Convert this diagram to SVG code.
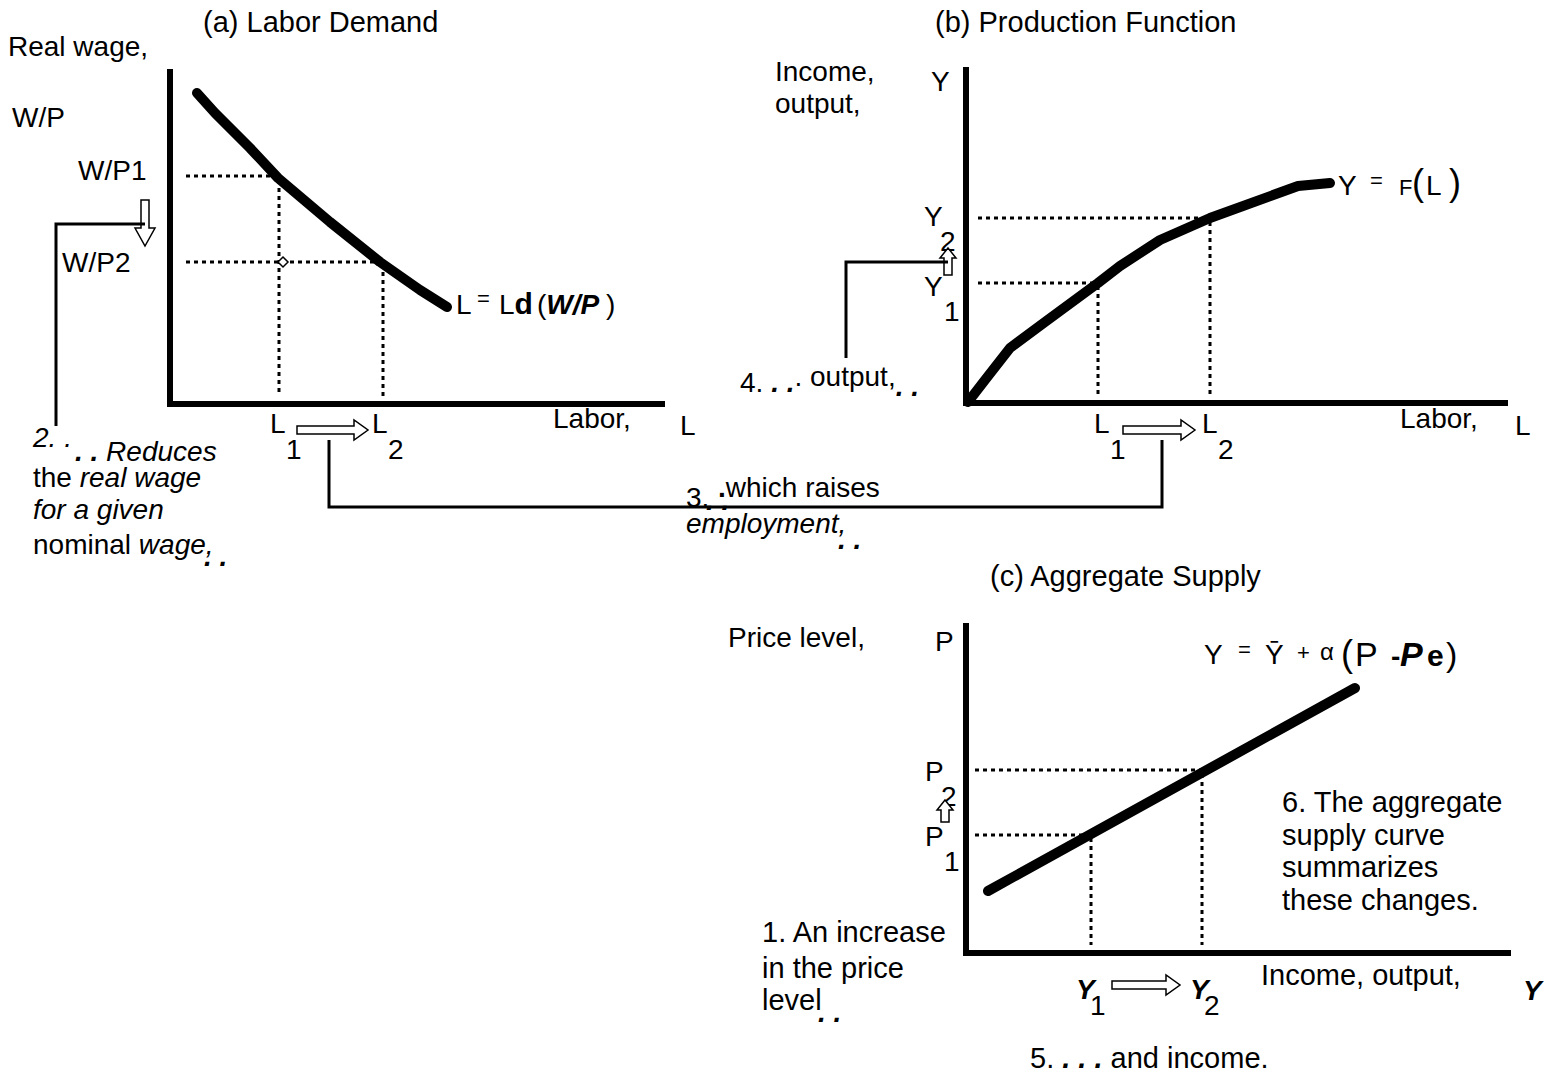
<svg xmlns="http://www.w3.org/2000/svg" width="1554" height="1086" viewBox="0 0 1554 1086">
<style>
text{font-family:"Liberation Sans",Arial,sans-serif;font-size:28px;fill:#000}
.t{font-size:29px}
.it{font-style:italic}
.b{font-weight:bold}
.axis{stroke:#000;stroke-width:6;fill:none;stroke-linecap:square}
.curve{stroke:#000;stroke-width:10;fill:none;stroke-linecap:round;stroke-linejoin:round}
.dot{stroke:#000;stroke-width:3;stroke-dasharray:4 4;fill:none}
.conn{stroke:#000;stroke-width:3;fill:none}
.harrow{fill:#fff;stroke:#000;stroke-width:1.5}
</style>
<rect width="1554" height="1086" fill="#fff"/>

<g id="panel-a">
<text class="t" x="203" y="32">(a) Labor Demand</text>
<text x="8" y="56">Real wage,</text>
<text x="12" y="127">W/P</text>
<text x="78" y="180">W/P1</text>
<text x="62" y="272">W/P2</text>
<path class="axis" d="M170 72 V404 H662"/>
<path class="dot" d="M186 176 H278"/>
<path class="dot" d="M186 262 H380"/>
<path class="dot" d="M279 180 V394"/>
<path class="dot" d="M383 264 V396"/>
<path class="curve" d="M197 93 L215 113 L250 148 L278 178 L330 222 L380 262 L420 290 L447 307"/>
<polygon points="283,257 288,262 283,267 278,262" fill="#fff" stroke="#000" stroke-width="1.5"/>
<text y="314"><tspan x="456">L</tspan><tspan x="477" y="306" font-size="22">=</tspan><tspan x="499" y="314">L</tspan><tspan class="b" font-size="30">d</tspan><tspan x="537">(</tspan><tspan class="it b">W/P</tspan><tspan x="606">)</tspan></text>
<text x="553" y="428">Labor,</text>
<text x="680" y="435">L</text>
<text x="270" y="433">L</text>
<text x="286" y="459">1</text>
<polygon class="harrow" points="297,426 354,426 354,420 368,430 354,440 354,434 297,434"/>
<text x="372" y="433">L</text>
<text x="388" y="459">2</text>
<polygon class="harrow" points="141,200 149,200 149,228 155,228 145,246 135,228 141,228"/>
<text class="it" x="33" y="447">2. .</text>
<text class="it" x="75" y="461"><tspan class="b">. .</tspan> Reduces</text>
<text x="33" y="487">the <tspan class="it">real wage</tspan></text>
<text class="it" x="33" y="519">for a given</text>
<text x="33" y="554">nominal <tspan class="it">wage,</tspan></text>
<text class="it b" x="204" y="566">. .</text>
</g>

<g id="panel-b">
<text class="t" x="935" y="32">(b) Production Function</text>
<text x="775" y="81">Income,</text>
<text x="775" y="113">output,</text>
<text x="931" y="91">Y</text>
<path class="axis" d="M966 70 V403 H1505"/>
<path class="dot" d="M978 218 H1210"/>
<path class="dot" d="M978 283 H1098"/>
<path class="dot" d="M1098 286 V395"/>
<path class="dot" d="M1210 222 V395"/>
<path class="curve" d="M968 402 L985 380 L1010 348 L1045 322 L1098 283 L1120 266 L1160 240 L1210 218 L1298 186 L1330 183"/>
<text y="195"><tspan x="1338">Y</tspan><tspan x="1370" y="188" font-size="22">=</tspan><tspan x="1399" y="195" font-size="22">F</tspan><tspan x="1412" font-size="36">(</tspan><tspan x="1426">L</tspan><tspan x="1449" font-size="36">)</tspan></text>
<text x="924" y="226">Y</text>
<text x="940" y="251">2</text>
<text x="924" y="296">Y</text>
<text x="944" y="321">1</text>
<polygon class="harrow" points="948,248 956,258 952,258 952,275 944,275 944,258 940,258"/>
<text x="1400" y="428">Labor,</text>
<text x="1515" y="435">L</text>
<text x="1094" y="433">L</text>
<text x="1110" y="459">1</text>
<polygon class="harrow" points="1123,426 1181,426 1181,420 1195,430 1181,440 1181,434 1123,434"/>
<text x="1202" y="433">L</text>
<text x="1218" y="459">2</text>
<text x="740" y="392">4. <tspan class="it b">. .</tspan><tspan dy="-6">. output,</tspan><tspan class="it b" dy="10">. .</tspan></text>
</g>

<g id="note-3">
<text x="686" y="507">3.</text>
<text class="it b" x="706" y="510">. .</text>
<text x="718" y="497"><tspan class="b">.</tspan>which raises</text>
<text class="it" x="686" y="533">employment,</text>
<text class="it b" x="838" y="549">. .</text>
</g>

<g id="panel-c">
<text class="t" x="990" y="586">(c) Aggregate Supply</text>
<text x="728" y="647">Price level,</text>
<text x="935" y="651">P</text>
<path class="axis" d="M966 626 V953 H1508"/>
<path class="dot" d="M975 770 H1200"/>
<path class="dot" d="M975 835 H1091"/>
<path class="dot" d="M1091 838 V945"/>
<path class="dot" d="M1202 774 V945"/>
<path class="curve" stroke-width="11" d="M988 891 L1355 688"/>
<text y="664"><tspan x="1204">Y</tspan><tspan x="1238" y="657" font-size="22">=</tspan><tspan x="1265" y="664">Ȳ</tspan><tspan x="1297" y="660" font-size="22">+</tspan><tspan x="1320" y="660" font-size="24">α</tspan><tspan x="1341" y="666" font-size="36">(</tspan><tspan x="1355" font-size="34">P</tspan><tspan class="b" x="1391">-</tspan><tspan class="it b" x="1400" font-size="34">P</tspan><tspan class="b" x="1427" font-size="30">e</tspan><tspan x="1446" font-size="34">)</tspan></text>
<text x="925" y="781">P</text>
<text x="941" y="806">2</text>
<text x="925" y="846">P</text>
<text x="944" y="871">1</text>
<polygon class="harrow" points="945,800 953,810 949,810 949,822 941,822 941,810 937,810"/>
<text class="t" x="1282" y="812">6. The aggregate</text>
<text class="t" x="1282" y="845">supply curve</text>
<text class="t" x="1282" y="877">summarizes</text>
<text class="t" x="1282" y="910">these changes.</text>
<text class="t" x="762" y="942">1. An increase</text>
<text class="t" x="762" y="978">in the price</text>
<text class="t" x="762" y="1010">level</text>
<text class="it b" x="818" y="1022">. .</text>
<text class="it b" x="1076" y="999">Y</text>
<text x="1090" y="1015">1</text>
<polygon class="harrow" points="1112,981 1166,981 1166,975 1180,985 1166,995 1166,989 1112,989"/>
<text class="it b" x="1190" y="999">Y</text>
<text x="1204" y="1015">2</text>
<text class="t" x="1261" y="985">Income, output,</text>
<text class="it b" x="1523" y="1000">Y</text>
<text class="t" x="1030" y="1068">5. <tspan class="it b">. . .</tspan> and income.</text>
</g>

<g id="connectors">
<path class="conn" d="M145 224 H56 V426"/>
<path class="conn" d="M329 440 V507 H1162 V440"/>
<path class="conn" d="M948 262 H846 V358"/>
</g>
</svg>
